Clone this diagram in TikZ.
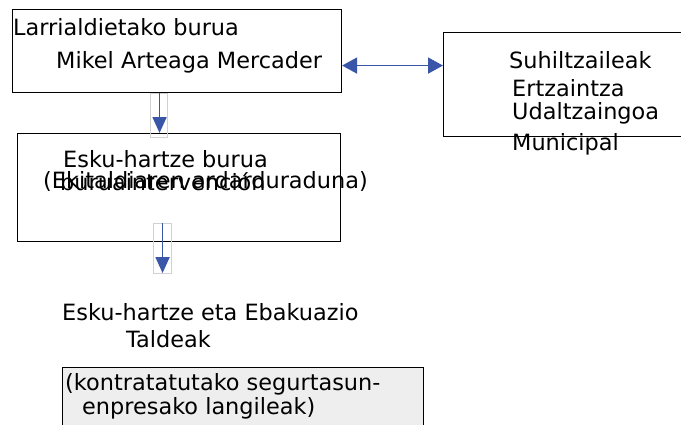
\documentclass[tikz,border=0pt]{standalone}
\usepackage{fontspec}
\setmainfont{DejaVu Sans}
\usetikzlibrary{arrows.meta,calc}
\definecolor{flechaazul}{RGB}{58,86,168}
\definecolor{fondogris}{RGB}{238,238,238}
\begin{document}
\begin{tikzpicture}[x=1pt,y=-1pt,
	caja/.style={
		draw, line width=1.1pt, inner sep=0pt, anchor=north west
	},
	texto/.style={
		anchor=base west, inner sep=0pt, font=\fontsize{22.4}{26}\selectfont
	},
	flecha/.style={
		draw=flechaazul, line width=1.8pt, -{Triangle[width=14pt,length=16pt]}
	},
	dobleflecha/.style={
		draw=flechaazul, line width=1.8pt, {Triangle[width=16pt,length=15pt]}-{Triangle[width=16pt,length=15pt]}
	},
	marco/.style={draw=gray!35, line width=0.6pt}]
	\useasboundingbox (0,0) rectangle (681,424);
	
	% Boxes
	\node[caja, minimum width=329pt, minimum height=83pt] (jefe) at (12,9) {};
	\node[caja, minimum width=250pt, minimum height=104pt] (externos) at (443,32) {};
	\node[caja, minimum width=323pt, minimum height=108pt] (intervencion) at (17,133) {};
	\node[caja, fill=fondogris, minimum width=361pt, minimum height=70pt] (equipos) at (62,367) {};
	
	% Texts of the first box
	\node[texto] (jefe1) at (13,35) {Larrialdietako burua};
	\node[texto] (jefe2) at (56,68) {Mikel Arteaga Mercader};
	
	% Texts of the right box
	\node[texto] (ext1) at (509,68) {Suhiltzaileak};
	\node[texto] (ext2) at (512,96) {Ertzaintza};
	\node[texto] (ext3) at (512,119) {Udaltzaingoa};
	\node[texto] (ext4) at (512,150) {Municipal};
	
	% Texts of the intervention box
	\node[texto] (interv1) at (63,167) {Esku-hartze burua};
	\node[texto] (interv2) at (60,190) {buruaintervención};
	\node[texto] (interv3) at (43,188) {(Ekitaldiaren ardarduraduna)};
	
	% Teams
	\node[texto] (equipo1) at (62,320) {Esku-hartze eta Ebakuazio};
	\node[texto] (equipo2) at (126,347) {Taldeak};
	\node[texto] (equipo3) at (65,390) {(kontratatutako segurtasun-};
	\node[texto] (equipo4) at (82,414) {enpresako langileak)};
	
	% Faint frames behind the arrows
	\draw[marco] ([xshift=-26.5pt]jefe.south) rectangle ([xshift=-9.5pt,yshift=-4pt]jefe.south |- intervencion.north);
	\draw[marco] ([xshift=-25.5pt,yshift=19pt]intervencion.south) rectangle ([xshift=-7.5pt,yshift=-31pt]intervencion.south);
	
	% Arrows
	\coordinate (fin) at ([xshift=-16.5pt,yshift=-31pt]intervencion.south);
	\draw[flecha] ([xshift=-17.5pt]jefe.south) -- ([xshift=-17.5pt]jefe.south |- intervencion.north);
	\draw[flecha] ([xshift=-16.5pt,yshift=19pt]intervencion.south) -- (fin);
	\draw[dobleflecha] ([yshift=-14.5pt]jefe.east) -- ([yshift=-14.5pt]jefe.east -| externos.west);
\end{tikzpicture}
\end{document}
